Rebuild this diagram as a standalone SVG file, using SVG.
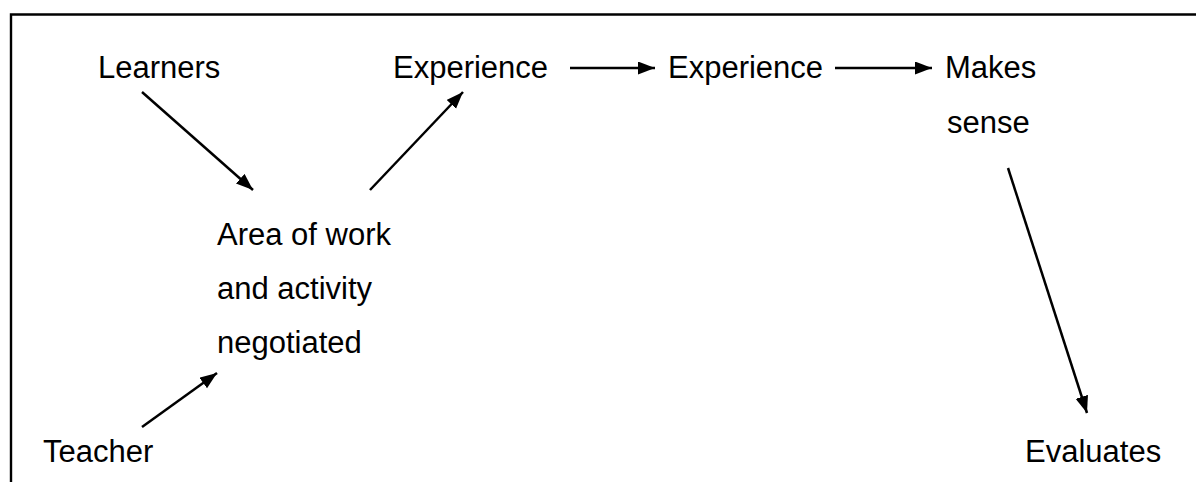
<svg xmlns="http://www.w3.org/2000/svg" width="1196" height="482" viewBox="0 0 1196 482">
<style>
text{font-family:"Liberation Sans",Arial,sans-serif;font-size:31px;fill:#000}
.c line{stroke:#000;stroke-width:2.5;fill:none}
</style>
<defs>
<marker id="ah" markerUnits="userSpaceOnUse" markerWidth="19" markerHeight="15" refX="17" refY="6.5" orient="auto">
<path d="M0,0 L17,6.5 L0,13 z" fill="#000"/>
</marker>
</defs>
<rect width="1196" height="482" fill="#fff"/>
<g id="frame"><path d="M11,482 V14.5 H1196" fill="none" stroke="#000" stroke-width="2.4"/></g>
<g id="learners"><text x="98" y="78">Learners</text></g>
<g id="experience1"><text x="393" y="78">Experience</text></g>
<g id="experience2"><text x="668" y="78">Experience</text></g>
<g id="makes-sense"><text x="945" y="78">Makes</text><text x="947" y="133">sense</text></g>
<g id="area"><text x="217" y="245">Area of work</text><text x="217" y="299">and activity</text><text x="217" y="353">negotiated</text></g>
<g id="teacher"><text x="43" y="462">Teacher</text></g>
<g id="evaluates"><text x="1025" y="462">Evaluates</text></g>
<g class="c" id="connectors">
<line x1="142" y1="92" x2="253" y2="190" marker-end="url(#ah)"/>
<line x1="370" y1="190" x2="463" y2="92" marker-end="url(#ah)"/>
<line x1="142" y1="427" x2="217" y2="373" marker-end="url(#ah)"/>
<line x1="570" y1="68" x2="655" y2="68" marker-end="url(#ah)"/>
<line x1="835" y1="68" x2="932" y2="68" marker-end="url(#ah)"/>
<line x1="1008" y1="168" x2="1087" y2="413" marker-end="url(#ah)"/>
</g>
</svg>
